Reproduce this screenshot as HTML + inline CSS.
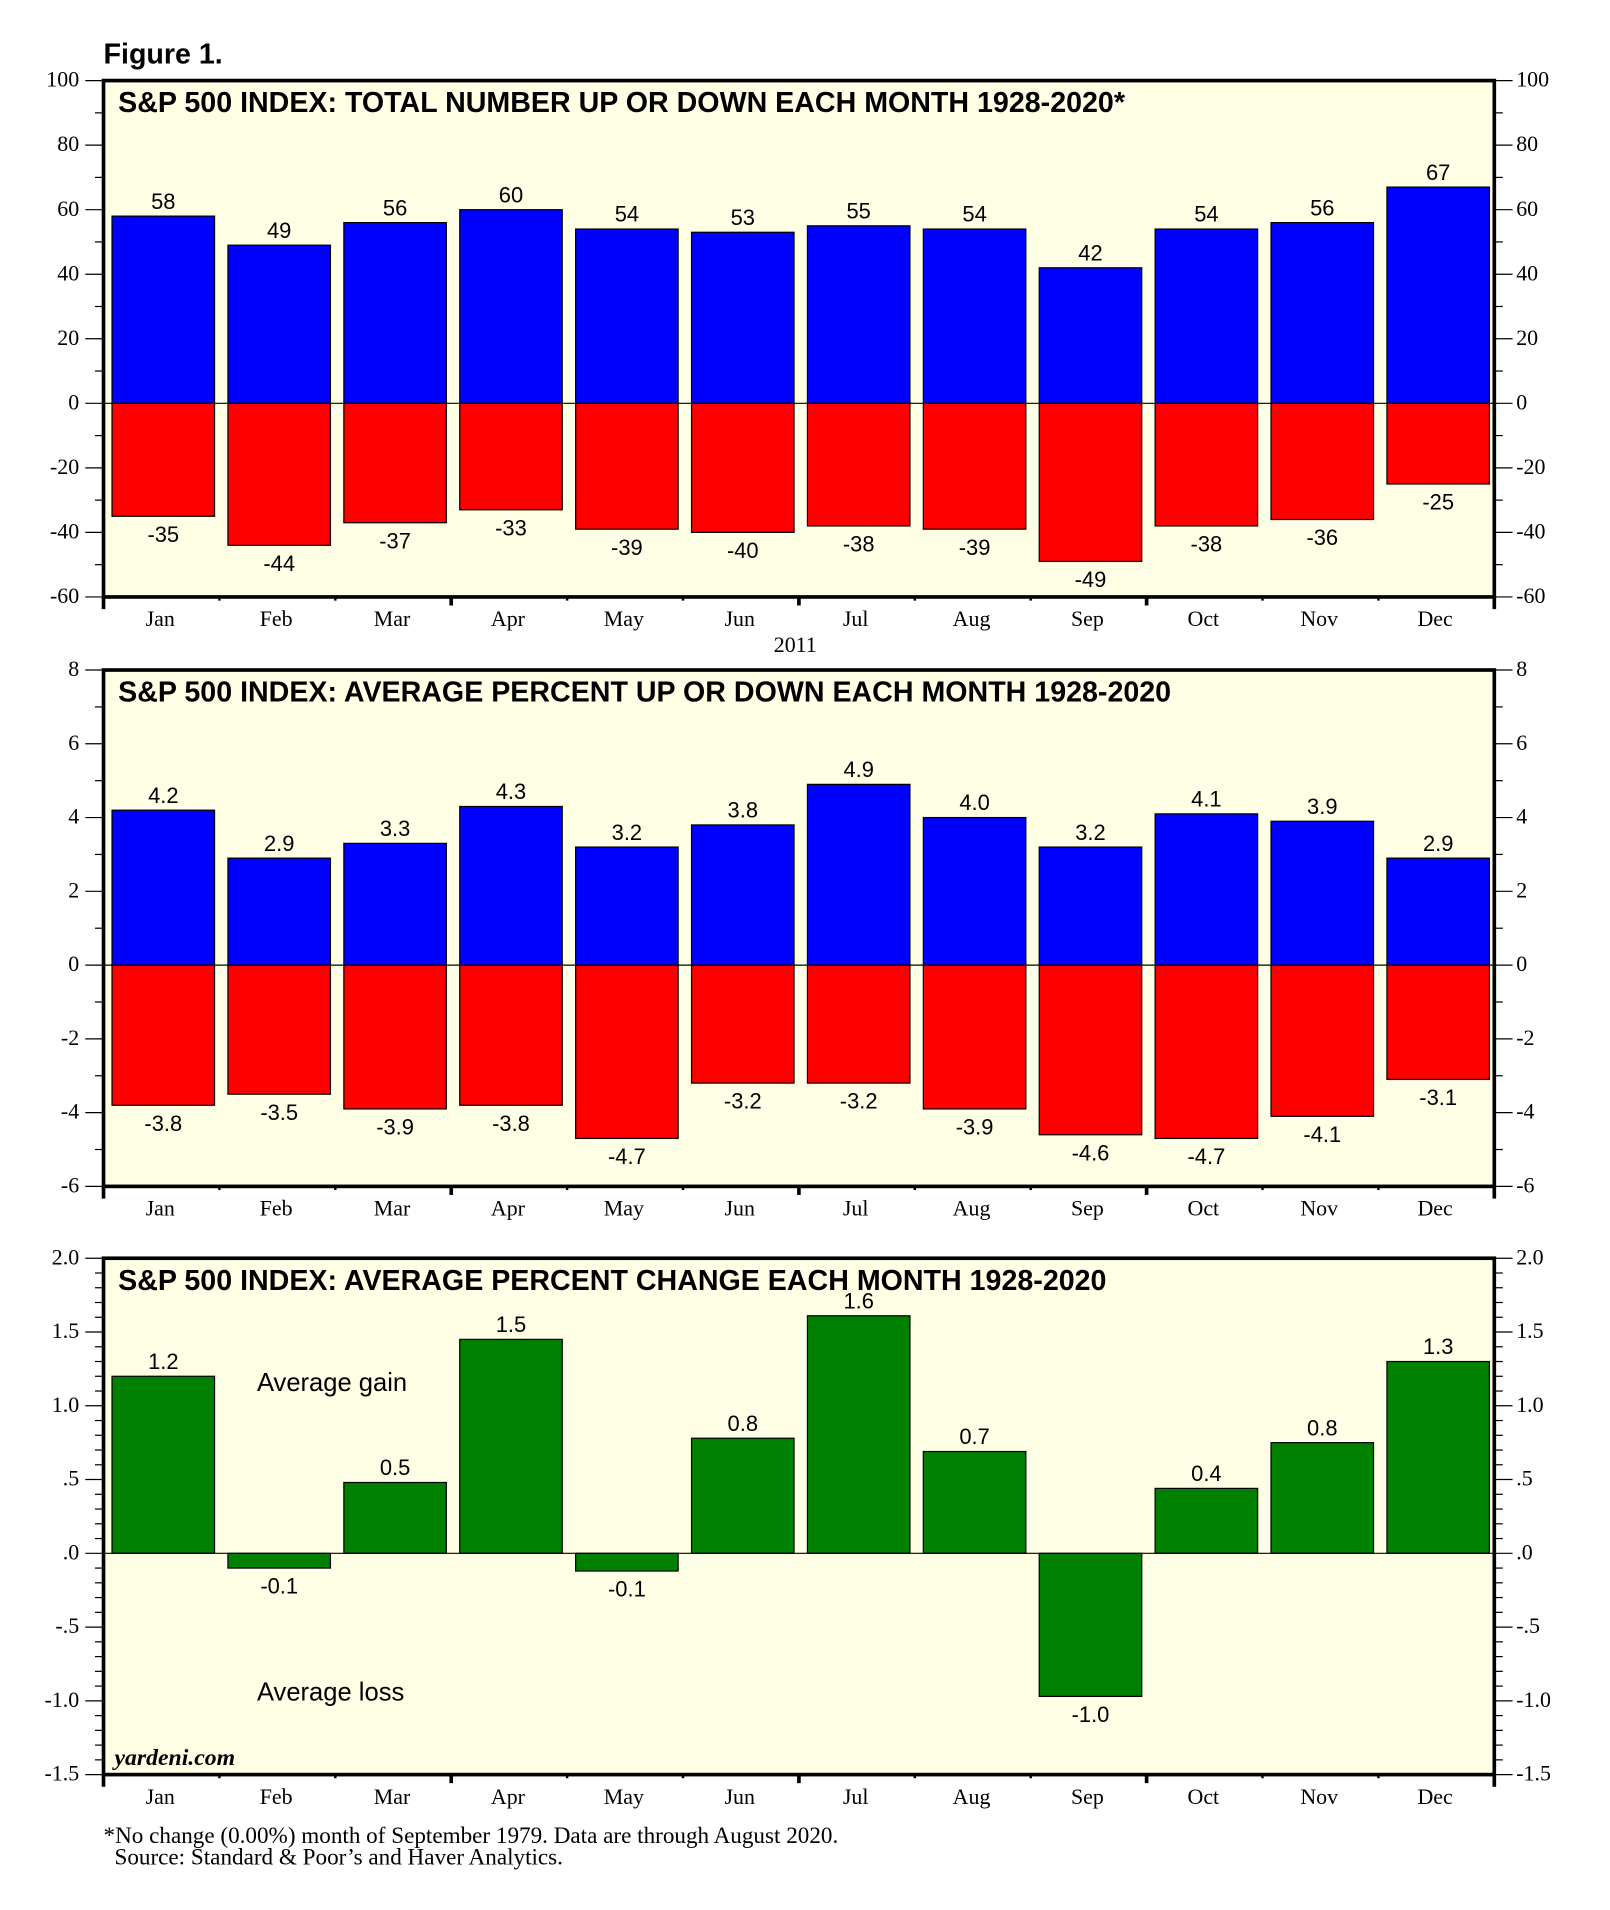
<!DOCTYPE html>
<html><head><meta charset="utf-8"><style>
html,body{margin:0;padding:0;background:#fff}
svg{display:block}
.ax{font-family:"Liberation Serif",serif;font-size:18px;fill:#000}
.val{font-family:"Liberation Sans",sans-serif;font-size:18px;fill:#000}
.ttl{font-family:"Liberation Sans",sans-serif;font-size:23.5px;font-weight:bold;fill:#000}
</style></head><body>
<svg id="chart" width="1610" height="1910" viewBox="0 0 1322 1568" xmlns="http://www.w3.org/2000/svg">
<text class="ttl" x="85" y="52">Figure 1.</text>
<g id="root"></g>
<text class="ax" x="653" y="535" text-anchor="middle">2011</text>
<text x="211" y="1142" style="font-family:'Liberation Sans',sans-serif;font-size:21px">Average gain</text>
<text x="211" y="1396" style="font-family:'Liberation Sans',sans-serif;font-size:21px">Average loss</text>
<text x="94" y="1449" style="font-family:'Liberation Serif',serif;font-size:19.5px;font-weight:bold;font-style:italic">yardeni.com</text>
<text class="ax" x="85" y="1513" style="font-size:19px">*No change (0.00%) month of September 1979. Data are through August 2020.</text>
<text class="ax" x="94" y="1531" style="font-size:19px">Source: Standard &amp; Poor’s and Haver Analytics.</text>
</svg>
<script>
const months=["Jan","Feb","Mar","Apr","May","Jun","Jul","Aug","Sep","Oct","Nov","Dec"];
const upCount=[58,49,56,60,54,53,55,54,42,54,56,67];
const downCount=[-35,-44,-37,-33,-39,-40,-38,-39,-49,-38,-36,-25];
const avgUp=[4.2,2.9,3.3,4.3,3.2,3.8,4.9,4.0,3.2,4.1,3.9,2.9];
const avgDown=[-3.8,-3.5,-3.9,-3.8,-4.7,-3.2,-3.2,-3.9,-4.6,-4.7,-4.1,-3.1];
const avgChange=[1.2,-0.1,0.48,1.45,-0.12,0.78,1.61,0.69,-0.97,0.44,0.75,1.3];
const avgChangeLabels=["1.2","-0.1","0.5","1.5","-0.1","0.8","1.6","0.7","-1.0","0.4","0.8","1.3"];
const ticks1=["100","80","60","40","20","0","-20","-40","-60"];
const ticks2=["8","6","4","2","0","-2","-4","-6"];
const ticks3=["2.0","1.5","1.0",".5",".0","-.5","-1.0","-1.5"];

const NS="http://www.w3.org/2000/svg";
const root=document.getElementById('root');
function mk(tag,attrs,parent){const e=document.createElementNS(NS,tag);for(const k in attrs)e.setAttribute(k,attrs[k]);(parent||root).appendChild(e);return e;}
const L=85,R=1227,slot=(R-L)/12;
function xOf(i){return L+i*slot;}

function panel(top,bot,vmin,vmax,tickLabels,minorPer,title,series,fmt,name){
  const g=mk('g',{});
  
  
  const y=v=>top+(vmax-v)/(vmax-vmin)*(bot-top);
  mk('rect',{x:L,y:top,width:R-L,height:bot-top,fill:'#ffffe6'},g);
  const n=tickLabels.length-1;
  for(let k=0;k<=n;k++){
    const v=vmax-k*(vmax-vmin)/n, yy=y(v);
    mk('line',{x1:70,x2:L,y1:yy,y2:yy,stroke:'#000','stroke-width':1},g);
    mk('line',{x1:R,x2:R+15,y1:yy,y2:yy,stroke:'#000','stroke-width':1},g);
    const t1=mk('text',{x:65,y:yy+5,'text-anchor':'end',class:'ax'},g);t1.textContent=tickLabels[k];
    
    
    const t2=mk('text',{x:1245,y:yy+5,class:'ax'},g);t2.textContent=tickLabels[k];
    
    
    if(k<n){for(let m=1;m<=minorPer;m++){const ym=yy+m*(bot-top)/n/(minorPer+1);
      mk('line',{x1:78,x2:L,y1:ym,y2:ym,stroke:'#000','stroke-width':1},g);
      mk('line',{x1:R,x2:R+7,y1:ym,y2:ym,stroke:'#000','stroke-width':1},g);}}
  }
  series.forEach(s=>{
    s.vals.forEach((v,i)=>{
      const x0=xOf(i)+7,w=slot-11;
      const y0=y(Math.max(v,0)),y1=y(Math.min(v,0));
      const r=mk('rect',{x:x0,y:y0,width:w,height:y1-y0,fill:s.color,stroke:'#000','stroke-width':1},g);
      
      
      const t=mk('text',{x:x0+w/2,y:v>=0?y0-6:y1+21,'text-anchor':'middle',class:'val'},g);
      t.textContent=s.labels?s.labels[i]:fmt(v);
      
      
    });
  });
  mk('line',{x1:L,x2:R,y1:y(0),y2:y(0),stroke:'#000','stroke-width':1},g);
  mk('rect',{x:L,y:top,width:R-L,height:bot-top,fill:'none',stroke:'#000','stroke-width':3},g);
  mk('line',{x1:L,x2:L,y1:bot,y2:bot+10,stroke:'#000','stroke-width':3},g);
  mk('line',{x1:R,x2:R,y1:bot,y2:bot+10,stroke:'#000','stroke-width':3},g);
  for(let i=1;i<12;i++){const big=i%3===0;
    mk('line',{x1:xOf(i),x2:xOf(i),y1:bot,y2:bot+(big?7:3),stroke:'#000','stroke-width':big?3:2},g);}
  months.forEach((m,i)=>{const t=mk('text',{x:xOf(i)+slot/2-1,y:bot+24,'text-anchor':'middle',class:'ax'},g);t.textContent=m;
    
    });
  const tt=mk('text',{x:97,y:top+26,class:'ttl'},g);tt.textContent=title;
  
  
}
panel(66,490,-60,100,ticks1,1,"S&P 500 INDEX: TOTAL NUMBER UP OR DOWN EACH MONTH 1928-2020*",
  [{vals:upCount,color:'#0000ff'},{vals:downCount,color:'#ff0000'}],v=>String(v),'panel-count');
panel(550,974,-6,8,ticks2,1,"S&P 500 INDEX: AVERAGE PERCENT UP OR DOWN EACH MONTH 1928-2020",
  [{vals:avgUp,color:'#0000ff'},{vals:avgDown,color:'#ff0000'}],v=>v.toFixed(1),'panel-avg-updown');
panel(1033,1457,-1.5,2.0,ticks3,4,"S&P 500 INDEX: AVERAGE PERCENT CHANGE EACH MONTH 1928-2020",
  [{vals:avgChange,labels:avgChangeLabels,color:'#008000'}],v=>v.toFixed(1),'panel-avg-change');
</script>
</body></html>
